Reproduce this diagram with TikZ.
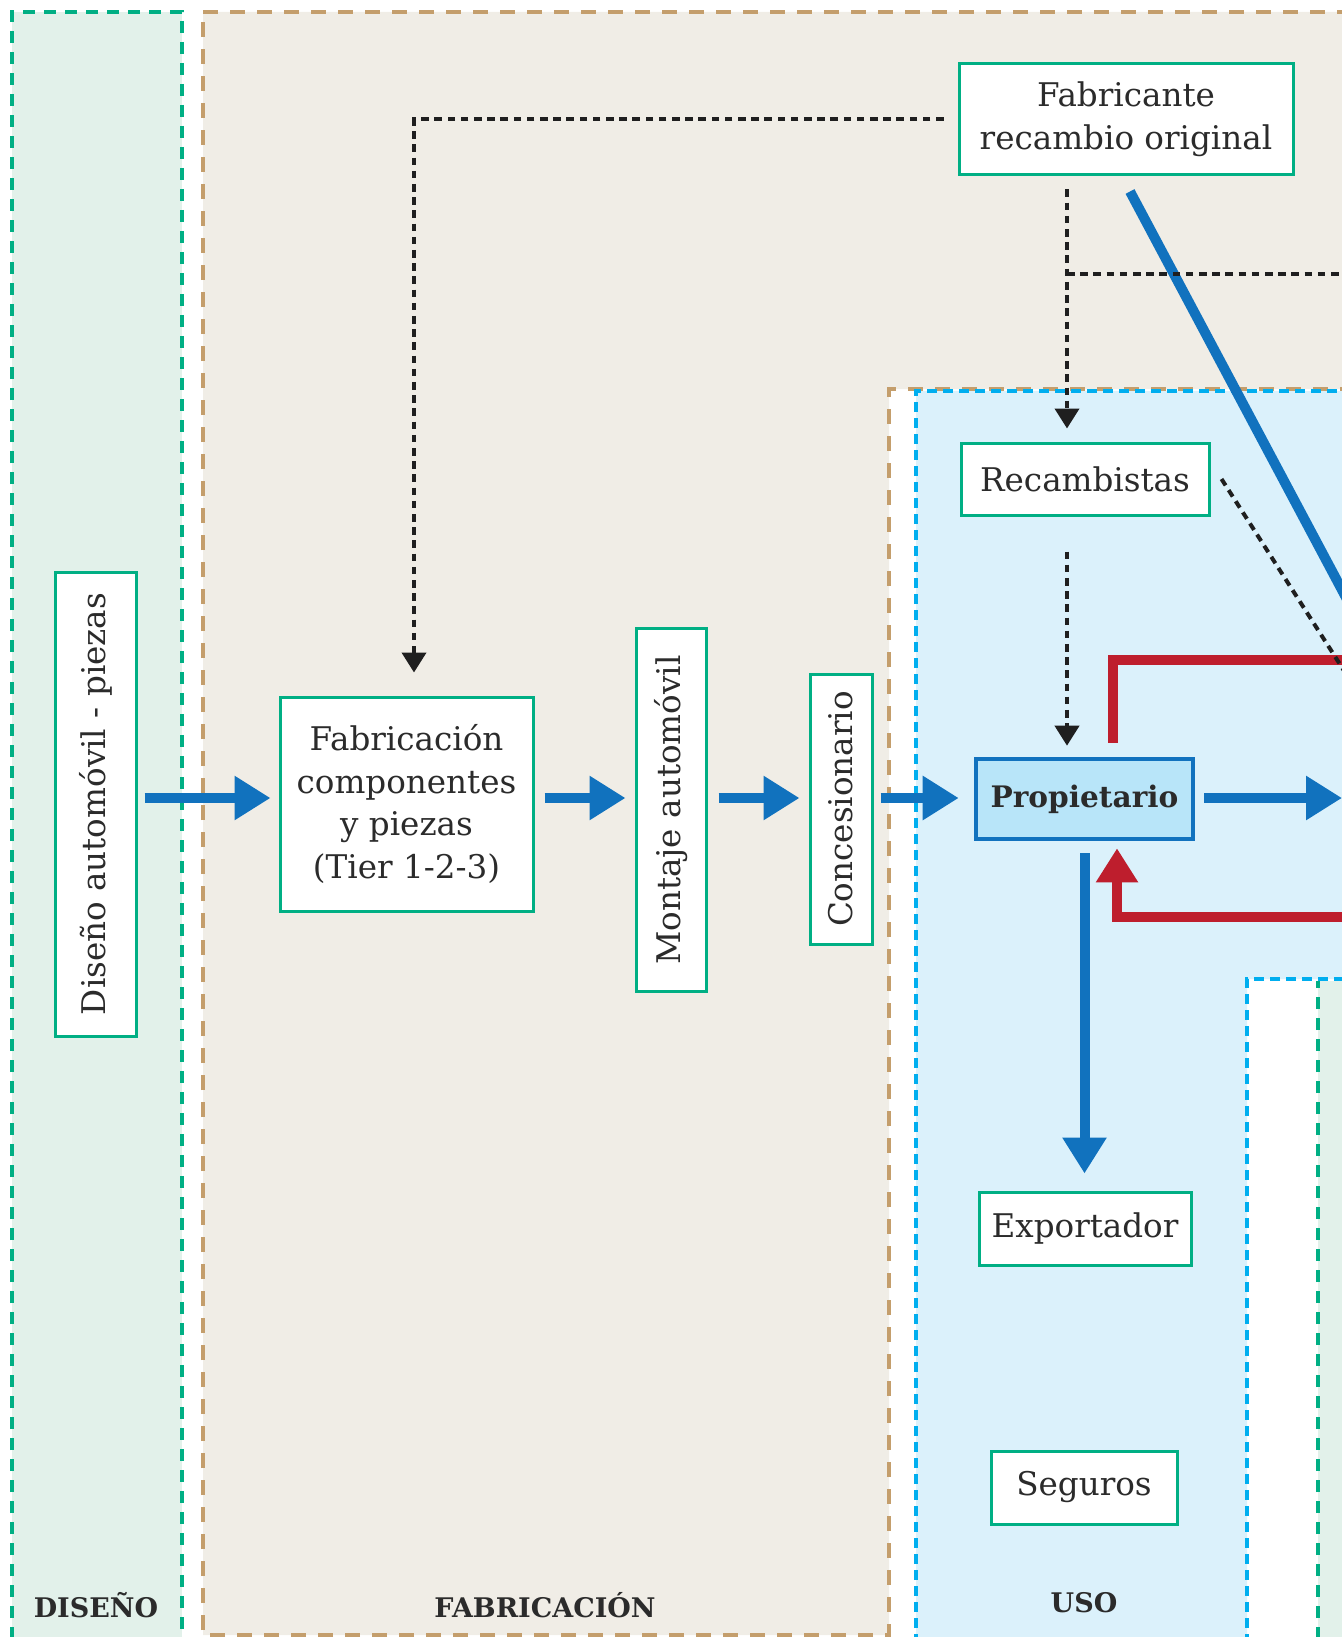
\documentclass[tikz,border=0pt]{standalone}
\usepackage{fontspec}
\setmainfont{DejaVu Serif}
\usetikzlibrary{arrows.meta, positioning}
\definecolor{greenborder}{HTML}{00AF84}
\definecolor{greenzone}{HTML}{E2F1EA}
\definecolor{brownborder}{HTML}{C49E6C}
\definecolor{brownzone}{HTML}{F0EDE6}
\definecolor{blueborder}{HTML}{00AEEF}
\definecolor{bluezone}{HTML}{DBF1FB}
\definecolor{flowblue}{HTML}{1172BE}
\definecolor{ownerfill}{HTML}{B8E5F9}
\definecolor{returnred}{HTML}{BE1E2D}
\definecolor{darktext}{HTML}{2B2B2B}

\begin{document}
\begin{tikzpicture}[x=0.5pt, y=-0.5pt,
    actorbox/.style={rectangle, draw=greenborder, line width=1.5pt, fill=white, align=center, text=darktext, inner sep=0pt, font=\fontsize{16.3}{21.4}\selectfont},
    ownerbox/.style={actorbox, draw=flowblue, line width=2.3pt, fill=ownerfill, font=\fontsize{14.8}{21.4}\selectfont\bfseries},
    zonelabel/.style={font=\fontsize{13.5}{16}\selectfont\bfseries, text=darktext},
    zoneborder/.style={line width=1.6pt, dash pattern=on 6pt off 4.5pt},
    flowarrow/.style={draw=flowblue, line width=5pt, -{Triangle[length=18pt, width=21pt]}},
    flowline/.style={draw=flowblue, line width=5pt},
    returnline/.style={draw=returnred, line width=5pt},
    returnarrow/.style={returnline, -{Triangle[length=17pt, width=20pt]}},
    supplyline/.style={draw=black!88, line width=2pt, dash pattern=on 3.8pt off 2.8pt},
    supplyarrow/.style={supplyline, -{Triangle[length=10pt, width=12pt]}}
]
\useasboundingbox (0,0) rectangle (1342,1637);

% Zones
\fill[greenzone] (12,12) rectangle (182,1660);
\draw[greenborder, zoneborder] (12,1660) -- (12,12) -- (182,12) -- (182,1660);
\fill[brownzone] (203,12) -- (1360,12) -- (1360,389) -- (889,389) -- (889,1635) -- (203,1635) -- cycle;
\draw[brownborder, zoneborder, dash pattern=on 7.5pt off 6pt] (203,12) -- (1360,12) -- (1360,389) -- (889,389) -- (889,1635) -- (203,1635) -- cycle;
\fill[bluezone] (916,391) -- (1360,391) -- (1360,979) -- (1247,979) -- (1247,1660) -- (916,1660) -- cycle;
\draw[blueborder, zoneborder, dash pattern=on 5pt off 3pt] (916,1660) -- (916,391) -- (1360,391) (1360,979) -- (1247,979) -- (1247,1660);
\fill[greenzone] (1318,981) rectangle (1360,1660);
\draw[greenborder, zoneborder] (1318,1660) -- (1318,981);

% Zone labels
\node[zonelabel] (designlabel) at (96,1605) {DISEÑO};
\node[zonelabel] (fablabel) at (545,1605) {FABRICACIÓN};
\node[zonelabel] (uselabel) at (1084,1603) {USO};

% Actors
\node[actorbox, minimum width=40.5pt, minimum height=232pt] (design) at (95.5,804) {\rotatebox{90}{Diseño automóvil - piezas}};
\node[actorbox, minimum width=126.5pt, minimum height=107pt] (fabcomp) at (406.5,804) {Fabricación\\componentes\\y piezas\\(Tier 1-2-3)};
\node[actorbox, minimum width=35pt, minimum height=181.5pt] (assembly) at (671,810) {\rotatebox{90}{Montaje automóvil}};
\node[actorbox, minimum width=31pt, minimum height=135pt] (dealer) at (841,809) {\rotatebox{90}{Concesionario}};
\node[ownerbox, minimum width=108.5pt, minimum height=40pt] (owner) at (1084.5,799) {Propietario};
\node[actorbox, minimum width=106pt, minimum height=36.5pt] (exporter) at (1085,1228.5) {Exportador};
\node[actorbox, minimum width=93pt, minimum height=36.5pt] (insurance) at (1084,1487.5) {Seguros};
\node[actorbox, minimum width=124pt, minimum height=36pt] (spares) at (1085,479) {Recambistas};
\node[actorbox, minimum width=167pt, minimum height=55.5pt] (oem) at (1126,119.5) {Fabricante\\recambio original};

% Free ends at the picture edge
\coordinate (flow) at (0,798);
\coordinate (ownerout) at (1342,798);
\coordinate (reworkout) at (1350,660);
\coordinate (reworkin) at (1350,917);
\coordinate (oembranch) at (1350,274);
\coordinate (sparesout) at (1350,680);
\coordinate (oemout) at (1350,605);

% Main flow
\draw[flowarrow] ([xshift=3.5pt]design.east |- flow) -- ([xshift=-4pt]fabcomp.west |- flow);
\draw[flowarrow] ([xshift=5pt]fabcomp.east |- flow) -- ([xshift=-4.5pt]assembly.west |- flow);
\draw[flowarrow] ([xshift=5.5pt]assembly.east |- flow) -- ([xshift=-4.5pt]dealer.west |- flow);
\draw[flowarrow] ([xshift=3.5pt]dealer.east |- flow) -- ([xshift=-7.5pt]owner.west |- flow);
\draw[flowarrow] ([xshift=4.5pt]owner.east |- flow) -- (ownerout);
\draw[flowarrow] ([yshift=-6pt]owner.south) -- ([yshift=8.5pt]owner.south |- exporter.north);
\draw[flowline] ([xshift=2pt, yshift=-7.5pt]oem.south) -- (oemout);

% Return loop
\draw[returnline] ([xshift=14.25pt, yshift=7pt]owner.north) |- (reworkout);
\draw[returnarrow] (reworkin) -| ([xshift=16.25pt, yshift=-3.5pt]owner.south);

% Spare parts supply
\coordinate (oemtap) at ([xshift=-29.5pt, yshift=-6.5pt]oem.south);
\draw[supplyarrow] ([xshift=-7pt]oem.west) -| ([xshift=3.75pt, yshift=11.5pt]fabcomp.north);
\draw[supplyarrow] (oemtap) -- ([yshift=6.5pt]oemtap |- spares.north);
\draw[supplyline] (oemtap |- oembranch) -- (oembranch);
\draw[supplyarrow] ([yshift=-17.5pt]oemtap |- spares.south) -- ([yshift=5.5pt]oemtap |- owner.north);
\draw[supplyline] ([xshift=5.5pt]spares.east) -- (sparesout);

\end{tikzpicture}
\end{document}
